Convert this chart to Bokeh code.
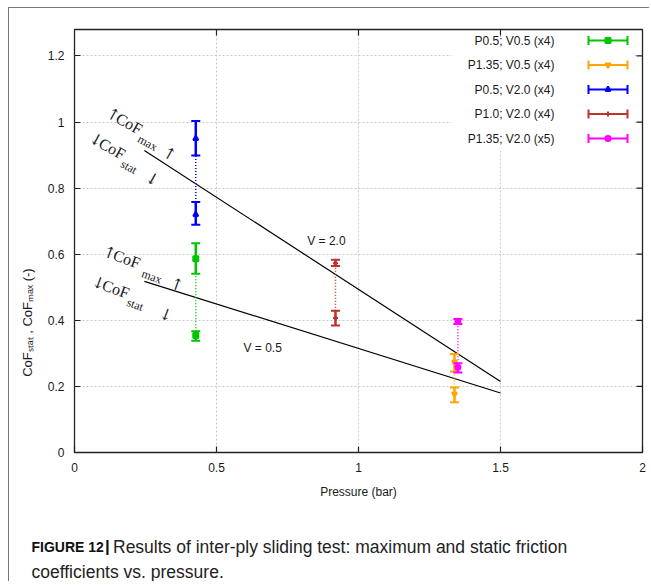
import math
from bokeh.plotting import figure
from bokeh.layouts import column
from bokeh.models import Label, FixedTicker, Range1d, ColumnDataSource
from bokeh.core.properties import value
from bokeh.embed import file_html
from bokeh.resources import INLINE

# ---------------- data ----------------
series_names = ["P0.5; V0.5 (x4)", "P1.35; V0.5 (x4)", "P0.5; V2.0 (x4)",
                "P1.0; V2.0 (x4)", "P1.35; V2.0 (x5)"]
series_colors = ["#00c400", "#ffa500", "#0000ff", "#c0302f", "#ff00ff"]
series_markers = ["square", "inverted_triangle", "triangle", "cross", "circle"]
pressure = [0.427, 1.338, 0.427, 0.919, 1.350]
cof_max = [0.586, 0.273, 0.950, 0.573, 0.397]
cof_max_lo = [0.541, 0.245, 0.899, 0.564, 0.389]
cof_max_hi = [0.633, 0.298, 1.003, 0.583, 0.404]
cof_stat = [0.354, 0.177, 0.720, 0.407, 0.258]
cof_stat_lo = [0.338, 0.152, 0.689, 0.384, 0.242]
cof_stat_hi = [0.367, 0.197, 0.758, 0.429, 0.270]

fit_x = [0.246, 1.5]
fit_v20 = [0.914, 0.215]
fit_v05 = [0.518, 0.180]
fit_names = ["V = 2.0", "V = 0.5"]

x_ticks = [0, 0.5, 1, 1.5, 2]
x_tick_labels = ["0", "0.5", "1", "1.5", "2"]
y_ticks = [0, 0.2, 0.4, 0.6, 0.8, 1.0, 1.2]
y_tick_labels = ["0", "0.2", "0.4", "0.6", "0.8", "1", "1.2"]

x_title = "Pressure (bar)"
y_title = "CoF\u209b\u209c\u2090\u209c ,  CoF\u2098\u2090\u2093  (-)"
caption_bold = "FIGURE 12"
caption_line1 = "Results of inter-ply sliding test: maximum and static friction"
caption_line2 = "coefficients vs. pressure."

# ---------------- layout ----------------
PAGE_X0, PAGE_Y0 = 9, 8          # page position of the main canvas
W, H1 = 640, 497
ML, MT, MR = 65, 21, 7
FRAME_BOTTOM = 452
MB = PAGE_Y0 + H1 - FRAME_BOTTOM
XMIN, XMAX, YMIN, YMAX = 0.0, 2.0, 0.0, 1.28
FRAME_L = PAGE_X0 + ML
FRAME_T = PAGE_Y0 + MT
FRAME_W = W - ML - MR
FRAME_H = H1 - MT - MB


def px2x(px):
    return XMIN + (px - FRAME_L) / FRAME_W * (XMAX - XMIN)


def py2y(py):
    return YMAX - (py - FRAME_T) / FRAME_H * (YMAX - YMIN)


def dx(pix):
    return pix / FRAME_W * (XMAX - XMIN)


def dy(pix):
    return pix / FRAME_H * (YMAX - YMIN)


SANS = "Liberation Sans"
SERIF = "Liberation Serif"
TXT = "#1a1a1a"
AXC = "#222222"

p = figure(width=W, height=H1, x_range=Range1d(XMIN, XMAX), y_range=Range1d(YMIN, YMAX),
           output_backend="svg", toolbar_location=None,
           min_border_left=ML, min_border_top=MT, min_border_right=MR, min_border_bottom=MB)
p.outline_line_color = AXC
p.outline_line_width = 1.3
p.background_fill_color = "white"
p.border_fill_color = "white"

for ax, ticks, labels in ((p.xaxis[0], x_ticks, x_tick_labels), (p.yaxis[0], y_ticks, y_tick_labels)):
    ax.ticker = FixedTicker(ticks=ticks)
    ax.major_label_overrides = dict(zip(ticks, labels))
    ax.major_tick_in = 6
    ax.major_tick_out = 0
    ax.minor_tick_line_color = None
    ax.axis_line_color = None
    ax.major_tick_line_color = AXC
    ax.major_tick_line_width = 1.2
    ax.major_label_text_font = SANS
    ax.major_label_text_font_size = "12px"
    ax.major_label_text_color = TXT
    ax.major_label_standoff = 10
    ax.axis_label_text_font = SANS
    ax.axis_label_text_font_size = "12px"
    ax.axis_label_text_font_style = "normal"
    ax.axis_label_text_color = TXT
    ax.axis_label_standoff = 10

p.xaxis.axis_label = x_title
# trailing em-spaces push the (bottom-to-top) label below the frame centre, as in the source
p.yaxis.axis_label = y_title + "\u2003" * 12
p.yaxis.axis_label_text_font_size = "13px"

# mirrored inward ticks on top and right edges
p.segment(x0=x_ticks[1:-1], y0=[YMAX] * 3, x1=x_ticks[1:-1], y1=[YMAX - dy(6)] * 3,
          line_color=AXC, line_width=1.2)
p.segment(x0=[XMAX] * 6, y0=y_ticks[1:], x1=[XMAX - dx(6)] * 6, y1=y_ticks[1:],
          line_color=AXC, line_width=1.2)

p.xgrid.ticker = FixedTicker(ticks=x_ticks[1:-1])
p.ygrid.ticker = FixedTicker(ticks=y_ticks[1:])
for g in (p.xgrid[0], p.ygrid[0]):
    g.grid_line_color = "#c8c8c8"
    g.grid_line_dash = "2 2"
    g.grid_line_width = 1

# white box behind the key
p.quad(left=[px2x(451)], right=[XMAX - dx(8)], top=[YMAX - dy(8)], bottom=[py2y(150)],
       fill_color="white", line_color=None)

# fit lines
p.line(fit_x, fit_v20, line_color="black", line_width=1.2)
p.line(fit_x, fit_v05, line_color="black", line_width=1.2)

src = ColumnDataSource(dict(x=pressure, c=series_colors, m=series_markers,
                            mx=cof_max, mlo=cof_max_lo, mhi=cof_max_hi,
                            sx=cof_stat, slo=cof_stat_lo, shi=cof_stat_hi))
# dotted connectors
p.segment(x0="x", y0="shi", x1="x", y1="mlo", source=src, line_color="c",
          line_width=1.5, line_dash="1 2")
for lo, hi, mid in (("mlo", "mhi", "mx"), ("slo", "shi", "sx")):
    p.segment(x0="x", y0=lo, x1="x", y1=hi, source=src, line_color="c", line_width=2.5)
    for capv in (lo, hi):
        p.scatter(x="x", y=capv, source=src, marker="dash", size=9, line_color="c", line_width=2)
    p.scatter(x="x", y=mid, source=src, marker="m", size=5, line_color="c",
              fill_color="c", line_width=2)

# key (text left, sample right)
key_rows = [40 + 24.5 * i for i in range(len(series_names))]
key_y = [py2y(r) for r in key_rows]
p.text(x=[px2x(554)] * len(series_names), y=key_y, text=series_names,
       text_align="right", text_baseline="middle", text_font=value(SANS),
       text_font_size="12px", text_color=TXT)
ksrc = ColumnDataSource(dict(x0=[px2x(588)] * 5, x1=[px2x(627)] * 5, xm=[px2x(607.5)] * 5,
                             y=key_y, c=series_colors, m=series_markers))
p.segment(x0="x0", y0="y", x1="x1", y1="y", source=ksrc, line_color="c", line_width=2)
for xc in ("x0", "x1"):
    p.scatter(x=xc, y="y", source=ksrc, marker="dash", angle=math.pi / 2, size=9,
              line_color="c", line_width=2)
p.scatter(x="xm", y="y", source=ksrc, marker="m", size=5, line_color="c", fill_color="c",
          line_width=2)

# line labels
p.text(x=[px2x(306.7), px2x(243)], y=[py2y(240.7), py2y(347)], text=fit_names,
       text_align="left", text_baseline="middle", text_font=value(SANS),
       text_font_size="12px", text_color=TXT)


def block(sx, sy, deg, pieces):
    th = math.radians(deg)
    d = (math.cos(th), math.sin(th))
    n = (-math.sin(th), math.cos(th))
    for txt, s, off, size, font in pieces:
        px = sx + s * d[0] + off * n[0]
        py = sy + s * d[1] + off * n[1]
        p.add_layout(Label(x=px2x(px), y=py2y(py), text=txt, angle=-th,
                           text_font=font, text_font_size=size, text_color=TXT,
                           text_align="left", text_baseline="middle"))


def cof_block(sx, sy, deg, arrow, sub, s_sub, s_arrow):
    block(sx, sy, deg, [(arrow, 0, 0, "16px", "DejaVu Serif"),
                        ("CoF", 11, 0, "16px", SERIF),
                        (sub, s_sub, 8, "12px", SERIF),
                        (arrow, s_arrow, 7, "16px", "DejaVu Serif")])


cof_block(107, 111, 29, "\u2191", "max", 40, 68)
cof_block(90, 136, 29, "\u2193", "stat", 40, 68)
cof_block(103, 250, 20, "\u2191", "max", 44, 74)
cof_block(92, 280, 20, "\u2193", "stat", 40, 74)

# ---------------- caption ----------------
CAP_H = 76
cap = figure(width=W, height=CAP_H, x_range=Range1d(0, W), y_range=Range1d(CAP_H, 0),
             output_backend="svg", toolbar_location=None, min_border=0)
cap.frame_align = False
cap.axis.visible = False
cap.grid.visible = False
cap.outline_line_color = None
CAP_Y0 = PAGE_Y0 + H1
cap.text(x=[31 - PAGE_X0], y=[546 - CAP_Y0], text=[caption_bold], text_font=value(SANS),
         text_font_style="bold", text_font_size="14px", text_color="#111",
         text_align="left", text_baseline="middle")
cap.text(x=[104.5 - PAGE_X0], y=[546 - CAP_Y0], text=["|"], text_font=value(SANS),
         text_font_style="bold", text_font_size="17px", text_color="#111",
         text_align="left", text_baseline="middle")
cap.text(x=[112.5 - PAGE_X0, 31 - PAGE_X0], y=[546 - CAP_Y0, 571 - CAP_Y0],
         text=[caption_line1, caption_line2], text_font=value(SANS),
         text_font_size="17.5px", text_color="#222", text_align="left", text_baseline="middle")

layout = column(p, cap, spacing=0)
layout.styles = {"margin-left": "8px", "margin-top": "7px",
                 "border-left": "1px solid #777777", "border-top": "1px solid #777777"}

open("out.html", "w").write(file_html(layout, INLINE))
